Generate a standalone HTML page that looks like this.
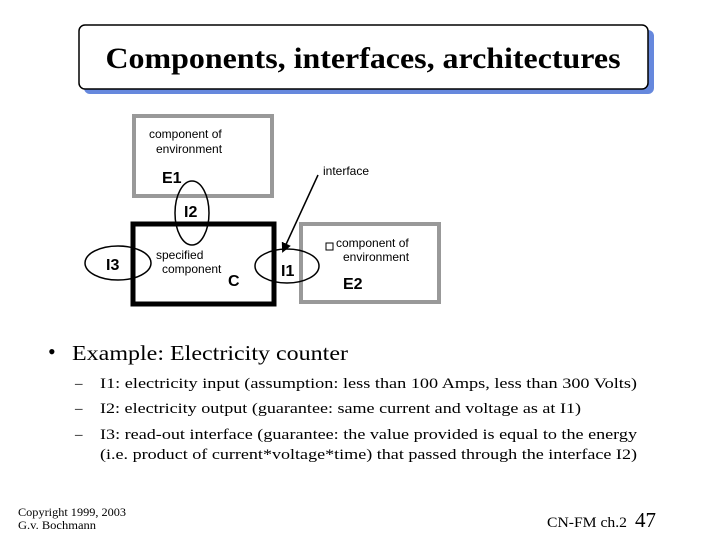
<!DOCTYPE html>
<html><head><meta charset="utf-8"><style>html,body{margin:0;padding:0;background:#fff}svg{display:block}</style></head>
<body>
<svg width="720" height="540" viewBox="0 0 720 540" xmlns="http://www.w3.org/2000/svg">
<defs><marker id="ah" markerWidth="10" markerHeight="10" refX="8" refY="5" orient="auto" markerUnits="userSpaceOnUse"><path d="M0,0 L10,5 L0,10 z" fill="#000"/></marker></defs>
<rect x="84" y="30" width="570" height="64" rx="6" fill="#6688dd"/>
<rect x="79" y="25" width="569" height="64" rx="6" fill="#fff" stroke="#000" stroke-width="1.5"/>
<text x="363" y="68" text-anchor="middle" font-family="Liberation Serif" font-weight="bold" font-size="30" textLength="515" lengthAdjust="spacingAndGlyphs">Components, interfaces, architectures</text>
<g font-family="Liberation Sans" font-size="12">
<rect x="134" y="116" width="138" height="80" fill="none" stroke="#999" stroke-width="4"/>
<rect x="301" y="224" width="138" height="78" fill="none" stroke="#999" stroke-width="4"/>
<rect x="133" y="224" width="141" height="80" fill="none" stroke="#000" stroke-width="5"/>
<ellipse cx="192" cy="213" rx="17" ry="32" fill="none" stroke="#000" stroke-width="1.5"/>
<ellipse cx="118" cy="263" rx="33" ry="17" fill="none" stroke="#000" stroke-width="1.5"/>
<ellipse cx="287" cy="266" rx="32" ry="17" fill="none" stroke="#000" stroke-width="1.5"/>
<line x1="318" y1="175" x2="283" y2="251" stroke="#000" stroke-width="1.5" marker-end="url(#ah)"/>
<rect x="326" y="243" width="7" height="7" fill="none" stroke="#000" stroke-width="1"/>
<text x="149" y="138">component of</text>
<text x="156" y="153">environment</text>
<text x="323" y="175">interface</text>
<text x="336" y="247">component of</text>
<text x="343" y="261">environment</text>
<text x="156" y="259">specified</text>
<text x="162" y="273">component</text>
<g font-weight="bold" font-size="16">
<text x="162" y="183">E1</text>
<text x="184" y="217">I2</text>
<text x="106" y="270">I3</text>
<text x="228" y="286">C</text>
<text x="281" y="276">I1</text>
<text x="343" y="289">E2</text>
</g></g>
<g font-family="Liberation Serif">
<text x="48" y="359" font-size="22">•</text>
<text x="72" y="360" font-size="21" textLength="276" lengthAdjust="spacingAndGlyphs">Example: Electricity counter</text>
<g font-size="15">
<text x="75" y="388">–</text><text x="100" y="388" textLength="537" lengthAdjust="spacingAndGlyphs">I1: electricity input (assumption: less than 100 Amps, less than 300 Volts)</text>
<text x="75" y="413">–</text><text x="100" y="413" textLength="481" lengthAdjust="spacingAndGlyphs">I2: electricity output (guarantee: same current and voltage as at I1)</text>
<text x="75" y="439">–</text><text x="100" y="439" textLength="537" lengthAdjust="spacingAndGlyphs">I3: read-out interface (guarantee: the value provided is equal to the energy</text>
<text x="100" y="459" textLength="537" lengthAdjust="spacingAndGlyphs">(i.e. product of current*voltage*time) that passed through the interface I2)</text>
</g>
<text x="18" y="516" font-size="12" textLength="108" lengthAdjust="spacingAndGlyphs">Copyright 1999, 2003</text>
<text x="18" y="529" font-size="12" textLength="78" lengthAdjust="spacingAndGlyphs">G.v. Bochmann</text>
<text x="547" y="527" font-size="15" textLength="80" lengthAdjust="spacingAndGlyphs">CN-FM ch.2</text>
<text x="635" y="527" font-size="21">47</text>
</g>
</svg>
</body></html>
